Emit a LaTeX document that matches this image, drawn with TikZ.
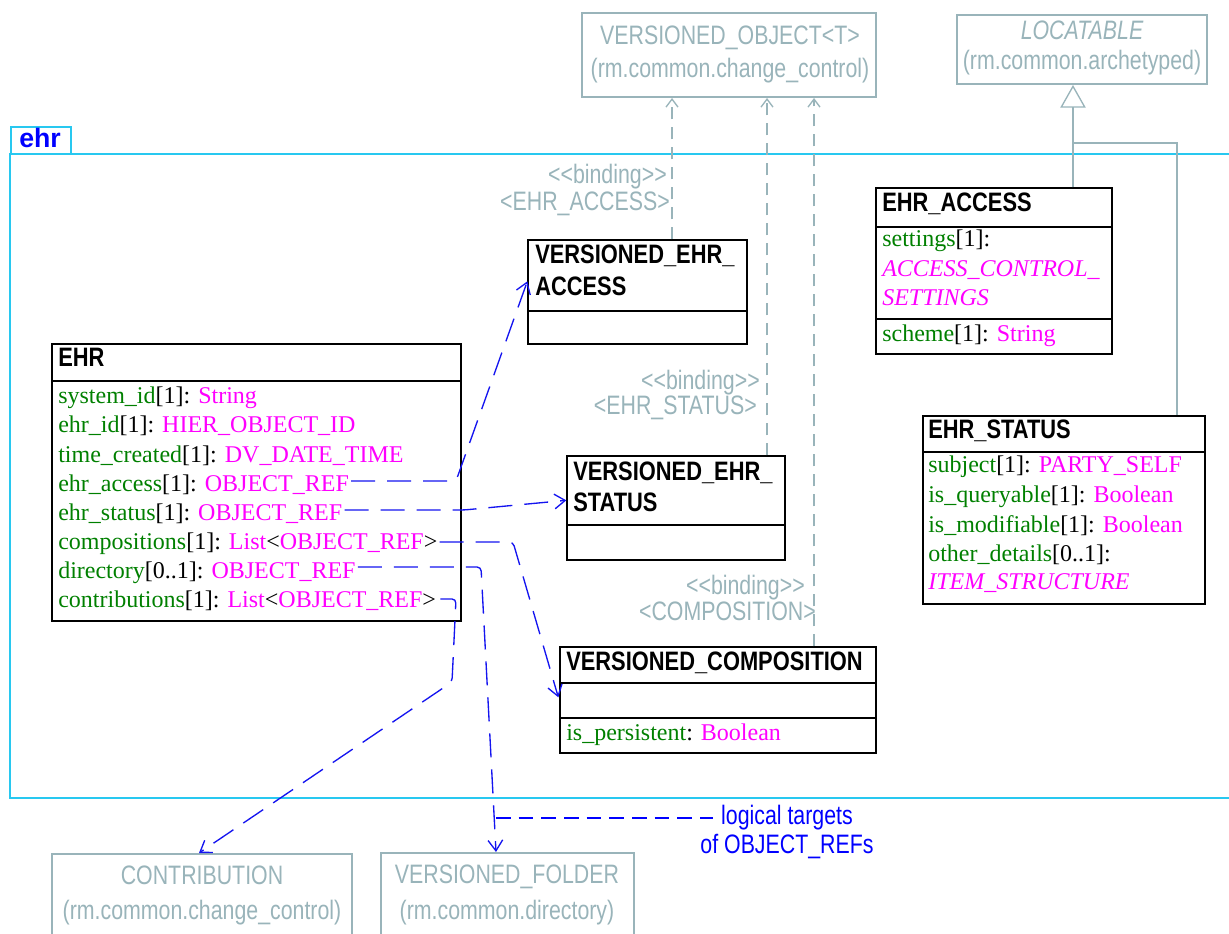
\documentclass[tikz,border=0pt]{standalone}
\usepackage{fontspec}
\setmainfont{Liberation Serif}
\newfontfamily\sansn[FakeStretch=0.8]{Liberation Sans}
\newfontfamily\sansb[FakeStretch=0.82]{Liberation Sans Bold}
\newfontfamily\sansw{Liberation Sans}
\usetikzlibrary{arrows.meta,fit,calc}
\definecolor{umlgray}{RGB}{153,180,186}
\definecolor{pkgcyan}{RGB}{40,200,240}
\definecolor{attrgreen}{RGB}{0,128,0}
\definecolor{typemag}{RGB}{255,0,255}
\definecolor{refblue}{RGB}{20,20,240}
\newcommand{\uattr}[1]{\textcolor{attrgreen}{#1}}
\newcommand{\utype}[1]{\textcolor{typemag}{#1}}
\begin{document}
\begin{tikzpicture}[x=0.75pt,y=-0.75pt,
  box/.style={draw=black, line width=1pt, inner sep=0pt},
  gbox/.style={draw=umlgray, line width=1.5pt, inner sep=0pt},
  sep/.style={draw=black, line width=1pt},
  ttl/.style={anchor=base west, inner sep=0pt, font=\sansb\fontsize{20}{24}\selectfont},
  att/.style={anchor=base west, inner sep=0pt, font=\fontsize{18}{22}\selectfont},
  gtxt/.style={anchor=base, inner sep=0pt, text=umlgray, font=\sansn\fontsize{20}{24}\selectfont},
  glab/.style={anchor=base east, inner sep=0pt, text=umlgray, font=\sansn\fontsize{20}{24}\selectfont},
  btxt/.style={anchor=base, inner sep=0pt, text=blue, font=\sansn\fontsize{20}{24}\selectfont},
  conn/.style={draw=refblue, line width=1pt, dash pattern=on 18pt off 9pt, rounded corners=3pt,
     -{Straight Barb[length=8pt,width=11pt,line width=1pt]}},
  bind/.style={draw=umlgray, line width=1.5pt, dash pattern=on 9pt off 6pt,
     -{Straight Barb[length=6pt,width=9pt,line width=1pt]}},
  genl/.style={draw=umlgray, line width=1.5pt},
  pkg/.style={draw=pkgcyan, line width=1.5pt}
]
\useasboundingbox (0,0) rectangle (1229,934);
\fill[white] (0,0) rectangle (1229,934);

% package ehr
\draw[pkg] (1240,154) -- (10,154) -- (10,798) -- (1240,798);
\node[pkg, draw, inner sep=0pt, fit={(11,127) (71,154)}] (tab) {};
\node[anchor=base west, inner sep=0pt, text=blue, font=\sansw\bfseries\fontsize{20}{22}\selectfont] (tabtxt) at (19,148) {ehr};

% external gray classes
\node[gbox, fit={(582,13) (876,97)}] (vo) {};
\node[gtxt] (vo1) at (730,45) {VERSIONED\_OBJECT\textless T\textgreater};
\node[gtxt] (vo2) at (730,78) {(rm.common.change\_control)};

\node[gbox, fit={(957,15) (1207,84)}] (loc) {};
\node[gtxt, font=\sansn\itshape\fontsize{20}{24}\selectfont] (loc1) at (1082,40) {LOCATABLE};
\node[gtxt] (loc2) at (1082,70) {(rm.common.archetyped)};

\node[gbox, fit={(52,854) (352,950)}] (cb) {};
\node[gtxt] (cb1) at (202,884) {CONTRIBUTION};
\node[gtxt] (cb2) at (202,919) {(rm.common.change\_control)};

\node[gbox, fit={(381,853) (634,950)}] (vf) {};
\node[gtxt] (vf1) at (507,883) {VERSIONED\_FOLDER};
\node[gtxt] (vf2) at (507,919) {(rm.common.directory)};

% EHR
\node[box, fit={(52,344) (461,621)}] (ehr) {};
\draw[sep] (ehr.west |- 0,381) -- (ehr.east |- 0,381);
\node[ttl] (ehrt) at (58,367) {EHR};
\node[att] (r1) at (58,404) {\uattr{system\_id}[1]: \utype{String}};
\node[att] (r2) at (58,433) {\uattr{ehr\_id}[1]: \utype{HIER\_OBJECT\_ID}};
\node[att] (r3) at (58,462) {\uattr{time\_created}[1]: \utype{DV\_DATE\_TIME}};
\node[att] (r4) at (58,491) {\uattr{ehr\_access}[1]: \utype{OBJECT\_REF}};
\node[att] (r5) at (58,520) {\uattr{ehr\_status}[1]: \utype{OBJECT\_REF}};
\node[att] (r6) at (58,549) {\uattr{compositions}[1]: \utype{List}\textless\utype{OBJECT\_REF}\textgreater};
\node[att] (r7) at (58,578) {\uattr{directory}[0..1]: \utype{OBJECT\_REF}};
\node[att] (r8) at (58,607) {\uattr{contributions}[1]: \utype{List}\textless\utype{OBJECT\_REF}\textgreater};

% VERSIONED_EHR_ACCESS
\node[box, fit={(528,240) (747,344)}] (vea) {};
\draw[sep] (vea.west |- 0,311) -- (vea.east |- 0,311);
\node[ttl] (vea1) at (535,264) {VERSIONED\_EHR\_};
\node[ttl] (vea2) at (535,296) {ACCESS};

% VERSIONED_EHR_STATUS
\node[box, fit={(567,456) (785,560)}] (ves) {};
\draw[sep] (ves.west |- 0,525) -- (ves.east |- 0,525);
\node[ttl] (ves1) at (573,480) {VERSIONED\_EHR\_};
\node[ttl] (ves2) at (573,511) {STATUS};

% VERSIONED_COMPOSITION
\node[box, fit={(560,647) (876,753)}] (vc) {};
\draw[sep] (vc.west |- 0,683) -- (vc.east |- 0,683);
\draw[sep] (vc.west |- 0,718) -- (vc.east |- 0,718);
\node[ttl] (vc1) at (566,670) {VERSIONED\_COMPOSITION};
\node[att] (vc2) at (566,740) {\uattr{is\_persistent}: \utype{Boolean}};

% EHR_ACCESS
\node[box, fit={(876,188) (1112,354)}] (eacc) {};
\draw[sep] (eacc.west |- 0,227) -- (eacc.east |- 0,227);
\draw[sep] (eacc.west |- 0,319) -- (eacc.east |- 0,319);
\node[ttl] (eacc1) at (882,212) {EHR\_ACCESS};
\node[att] (eacc2) at (882,247) {\uattr{settings}[1]:};
\node[att] (eacc3) at (882,277) {\utype{\itshape ACCESS\_CONTROL\_}};
\node[att] (eacc4) at (882,306) {\utype{\itshape SETTINGS}};
\node[att] (eacc5) at (882,342) {\uattr{scheme}[1]: \utype{String}};

% EHR_STATUS
\node[box, fit={(923,416) (1205,604)}] (estat) {};
\draw[sep] (estat.west |- 0,452) -- (estat.east |- 0,452);
\node[ttl] (estat1) at (928,439) {EHR\_STATUS};
\node[att] (estat2) at (928,473) {\uattr{subject}[1]: \utype{PARTY\_SELF}};
\node[att] (estat3) at (928,503) {\uattr{is\_queryable}[1]: \utype{Boolean}};
\node[att] (estat4) at (928,532) {\uattr{is\_modifiable}[1]: \utype{Boolean}};
\node[att] (estat5) at (928,561) {\uattr{other\_details}[0..1]:};
\node[att] (estat6) at (928,589) {\utype{\itshape ITEM\_STRUCTURE}};

% generalization to LOCATABLE
\coordinate (gj) at (1073,143);
\draw[genl, -{Triangle[open,length=17pt,width=19pt,line width=1pt]}] (eacc.north -| gj) -- (loc.south -| gj);
\draw[genl] (gj) -| (estat.north -| 1177,0);

% binding dependencies
\draw[bind] (vea.north -| 672,0) -- (vo.south -| 672,0);
\draw[bind] (ves.north -| 767,0) -- (vo.south -| 767,0);
\draw[bind] (vc.north -| 814,0) -- (vo.south -| 814,0);
\node[glab] (b1a) at (667,184) {\textless\textless binding\textgreater\textgreater};
\node[glab] (b1b) at (670,211) {\textless EHR\_ACCESS\textgreater};
\node[glab] (b2a) at (760,390) {\textless\textless binding\textgreater\textgreater};
\node[glab] (b2b) at (757,415) {\textless EHR\_STATUS\textgreater};
\node[glab] (b3a) at (805,594) {\textless\textless binding\textgreater\textgreater};
\node[glab] (b3b) at (816,620) {\textless COMPOSITION\textgreater};

% OBJECT_REF connectors
\draw[conn] ($(r4.base east)+(2,-10)$) -- (456,481) -- ($(vea.north west)+(0,42)$);
\draw[conn] ($(r5.base east)+(2,-10)$) -- (464,510) -- ($(ves.north west)+(0,45)$);
\draw[conn] ($(r6.base east)+(2,-7)$) -- (513,542) -- ($(vc.north west)+(-1,51)$);
\draw[conn] ($(r7.base east)+(2,-11)$) -- (481,567) -- ($(vf.north west)+(116,0)$);
\draw[conn] ($(r8.base east)+(4,-8)$) -- (456,599) -- (452,682) -- ($(cb.north west)+(148,0)$);

% logical targets note
\node[btxt] (lt1) at (787,824) {logical targets};
\node[btxt] (lt2) at (787,853) {of OBJECT\_REFs};
\coordinate (ltj) at (496,818);
\draw[draw=blue, line width=1.5pt, dash pattern=on 11pt off 6pt, shorten >=6pt] (ltj) -- (lt1.west |- ltj);
\end{tikzpicture}
\end{document}
